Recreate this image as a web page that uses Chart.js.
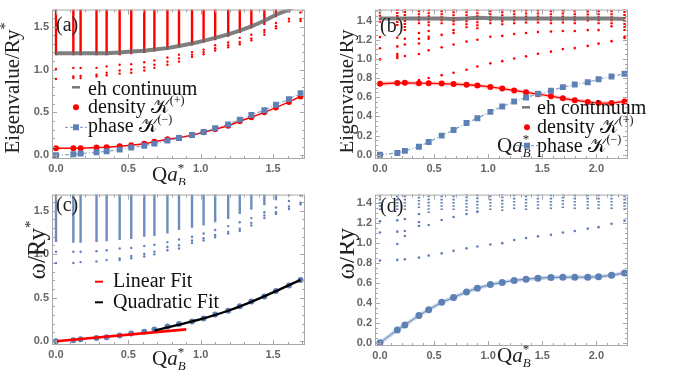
<!DOCTYPE html>
<html><head><meta charset="utf-8">
<script src="https://cdn.jsdelivr.net/npm/chart.js@4.4.1/dist/chart.umd.min.js"></script>
<style>
html,body{margin:0;padding:0;background:#fff;}
body{width:683px;height:379px;position:relative;overflow:hidden;}
canvas{position:absolute;display:block;}
</style></head><body>
<canvas id="ca" width="340" height="185" style="left:0;top:0;width:340px;height:185px"></canvas>
<canvas id="cb" width="343" height="185" style="left:340px;top:0;width:343px;height:185px"></canvas>
<canvas id="cc" width="340" height="194" style="left:0;top:185px;width:340px;height:194px"></canvas>
<canvas id="cd" width="343" height="194" style="left:340px;top:185px;width:343px;height:194px"></canvas>
<script>
// ---------------- DATA ----------------
// panel (a) / (c): momentum values
const qA = [0,0.12,0.17,0.28,0.35,0.44,0.52,0.61,0.68,0.77,0.85,0.94,1.02,1.10,1.19,1.27,1.35,1.44,1.52,1.61,1.69];
const densityA = [0.081,0.081,0.081,0.089,0.093,0.104,0.115,0.133,0.156,0.185,0.204,0.233,0.267,0.304,0.344,0.396,0.444,0.50,0.556,0.622,0.685];
const phaseA = [0,0.01,0.02,0.035,0.045,0.065,0.09,0.11,0.135,0.17,0.20,0.235,0.27,0.315,0.36,0.415,0.47,0.525,0.59,0.655,0.725];
const ehA = [1.19,1.19,1.19,1.19,1.19,1.20,1.21,1.22,1.235,1.25,1.275,1.305,1.335,1.37,1.41,1.455,1.505,1.57,1.64,1.70,1.77];
const contLowA = [1.167,1.167,1.167,1.167,1.167,1.167,1.178,1.193,1.211,1.23,1.259,1.285,1.315,1.341,1.382,1.426,1.481,1.519,1.611,1.667];
const contTopA = 1.8;
const levelsA = [[1.007,0.889],[1.019,0.919,0.90],[1.019,0.926,0.90],[1.02,0.94,0.92],[1.037,0.963,0.933],[1.056,0.989,0.952],[1.063,1.0,0.963],[1.085,1.026,0.989],[1.107,1.056,1.02],[1.141,1.093,1.056],[1.174,1.13,1.093],[1.204,1.174,1.148],[1.233,1.204,1.178],[1.285,1.248,1.222],[1.315,1.285,1.259],[1.37,1.322,1.296],[1.407,1.363,1.341],[1.463,1.437,1.407],[1.544,1.507,1.481],[1.593,1.563],[1.667,1.59,1.567]];

const omegaC = [0,0.011,0.022,0.037,0.044,0.066,0.089,0.107,0.133,0.170,0.196,0.225,0.262,0.307,0.351,0.402,0.455,0.514,0.577,0.640,0.702];
const contLowC = [1.139,1.131,1.131,1.139,1.15,1.164,1.175,1.2,1.21,1.238,1.278,1.304,1.33,1.367,1.404,1.463,1.51,1.563,1.62,1.67];
const contTopC = 1.8;
const levelsC = [[1.028,0.898],[1.028,0.898],[1.028,0.909],[1.035,0.917],[1.046,0.932],[1.065,0.95,0.932],[1.072,0.979,0.953],[1.094,1.002,0.973],[1.109,1.028,0.998],[1.139,1.083,1.046],[1.168,1.102,1.065],[1.2,1.157,1.13],[1.238,1.183,1.157],[1.278,1.22,1.194],[1.323,1.257,1.238],[1.367,1.293,1.267],[1.415,1.36,1.33],[1.482,1.445,1.415],[1.537,1.482,1.463],[1.611,1.548,1.52],[1.674,1.592,1.574]];
const linFitQ = [0,0.90];
const linFitW = [0,0.136];
const quadFitQ = [0.68,0.85,1.02,1.19,1.35,1.52,1.69];
const quadFitW = [0.122,0.19,0.262,0.35,0.452,0.575,0.705];

// panel (b) / (d)
const qB = [0,0.16,0.23,0.36,0.45,0.57,0.68,0.80,0.90,1.02,1.13,1.24,1.35,1.46,1.58,1.69,1.80,1.92,2.02,2.14,2.26];
const densityB = [0.74,0.748,0.75,0.746,0.745,0.742,0.737,0.73,0.722,0.707,0.69,0.671,0.651,0.631,0.611,0.588,0.568,0.551,0.539,0.539,0.555];
const phaseB = [0,0.017,0.04,0.082,0.132,0.199,0.258,0.331,0.38,0.447,0.503,0.556,0.596,0.636,0.668,0.705,0.732,0.755,0.788,0.815,0.844];
const ehB = [1.42,1.42,1.42,1.42,1.42,1.42,1.415,1.42,1.43,1.425,1.42,1.42,1.42,1.42,1.42,1.42,1.42,1.42,1.42,1.42,1.415];
const contLowB = [1.376,1.343,1.29,1.36,1.34,1.36,1.35,1.32,1.31,1.36,1.35,1.36,1.37,1.37,1.36,1.37,1.36,1.39,1.36,1.36,1.29];
const contTopB = 1.6;
const levelsB = [[1.227,1.111,0.995],[1.22,1.13,1.05,1.03,1.01],[1.21,1.15,1.03],[1.27,1.21,1.16,1.05,0.78],[1.29,1.23,1.21,1.09,0.80],[1.25,1.12,0.83],[1.3,1.27,1.15,0.855],[1.18,0.887],[1.2,0.92],[1.23,0.953],[1.24,0.976],[1.26,1.003],[1.27,1.026],[1.28,1.053],[1.285,1.075],[1.29,1.102],[1.29,1.112],[1.3,1.135],[1.3,1.159],[1.34,1.185],[1.23,1.217]];

const omegaD = [0,0.129,0.178,0.274,0.332,0.405,0.454,0.509,0.547,0.583,0.605,0.625,0.637,0.647,0.654,0.657,0.657,0.657,0.661,0.676,0.699];
const contLowD = [1.33,1.33,1.33,1.35,1.30,1.33,1.33,1.32,1.31,1.33,1.32,1.34,1.33,1.34,1.34,1.35,1.34,1.34,1.34,1.34,1.33];
const contTopD = 1.6;
const levelsD = [[1.216,1.104,0.824],[1.226,1.113,0.99,0.83],[1.24,1.12,1.07,0.836],[1.29,1.21,1.17,0.853],[1.18,0.873],[1.23,0.895],[1.26,0.921],[1.29,0.946],[1.31,0.965],[0.985],[0.998],[1.03],[1.049],[1.066],[1.081],[1.104],[1.12],[1.143],[1.158],[1.191],[1.223]];

// ---------------- HELPERS ----------------
const RED = '#ff0000', BLUE = '#5e81b5', GRAY = 'rgba(105,105,105,0.85)';
const SERIF = "'Liberation Serif','DejaVu Serif',serif";
const TICKFONT = {family:"'Liberation Sans',Arial,sans-serif", size:11, weight:'bold'};
const TICKCOLOR = '#666';
const FRAME = '#a8a8a8';
const KSCRIPT = '\u{1D4A6}';

const series = (q, v) => q.map((x, i) => ({x, y: v[i]}));
function columns(q, low, top) {
  const d = [];
  low.forEach((lo, i) => { d.push({x:q[i], y:lo}, {x:q[i], y:top}, {x:q[i], y:null}); });
  return d;
}
function levels(q, arr) {
  const d = [];
  arr.forEach((vals, i) => vals.forEach(v => d.push({x:q[i], y:v})));
  return d;
}

function drawRich(ctx, parts, x, y, measureOnly) {
  let cx = x;
  for (const p of parts) {
    if (p.sup !== undefined || p.sub !== undefined) {
      let w = 0;
      if (p.sup !== undefined) {
        ctx.font = (p.supItalic ? 'italic ' : '') + (p.size || 13) + 'px ' + SERIF;
        if (!measureOnly) ctx.fillText(p.sup, cx, y - (p.up || 9));
        w = Math.max(w, ctx.measureText(p.sup).width);
      }
      if (p.sub !== undefined) {
        ctx.font = (p.subItalic ? 'italic ' : '') + (p.size || 13) + 'px ' + SERIF;
        if (!measureOnly) ctx.fillText(p.sub, cx, y + (p.down || 5));
        w = Math.max(w, ctx.measureText(p.sub).width);
      }
      cx += w;
    } else {
      ctx.font = (p.italic ? 'italic ' : '') + p.size + 'px ' + (p.family || SERIF);
      if (!measureOnly) ctx.fillText(p.t, cx, y + (p.dy || 0));
      cx += ctx.measureText(p.t).width;
    }
  }
  return cx - x;
}
function drawRotated(ctx, parts, bx, cy) {
  ctx.save();
  ctx.translate(bx, cy);
  ctx.rotate(-Math.PI / 2);
  const w = drawRich(ctx, parts, 0, 0, true);
  drawRich(ctx, parts, -w / 2, 0);
  ctx.restore();
}
const qaTitle = [{t:'Q', size:21}, {t:'a', size:21, italic:true}, {sup:'*', sub:'B', subItalic:true, size:13, up:9, down:5}];
const eigTitle = [{t:'Eigenvalue/Ry', size:21}, {sup:'*', size:14, up:9}];
const omTitle = [{t:'\u03C9/Ry', size:25, italic:false}, {sup:'*', size:15, up:10}];
const densText = [{t:'density ', size:20}, {t:KSCRIPT, size:20}, {sup:'(+)', size:12, up:9}];
const phaseText = [{t:'phase ', size:20}, {t:KSCRIPT, size:20}, {sup:'(\u2212)', size:12, up:9}];

function frame(chart, xMaj, xMin, yMaj, yMin) {
  const {ctx, chartArea:a, scales:{x, y}} = chart;
  ctx.save();
  ctx.strokeStyle = FRAME; ctx.lineWidth = 1;
  ctx.strokeRect(a.left + 0.5, a.top + 0.5, a.right - a.left - 1, a.bottom - a.top - 1);
  ctx.beginPath();
  const isMaj = (v, m) => Math.abs(v / m - Math.round(v / m)) < 1e-6;
  for (let k = Math.ceil(x.min / xMin); k * xMin <= x.max + 1e-9; k++) {
    const v = k * xMin, px = Math.round(x.getPixelForValue(v)) + 0.5;
    const L = isMaj(v, xMaj) ? 5 : 3;
    ctx.moveTo(px, a.bottom); ctx.lineTo(px, a.bottom - L);
    ctx.moveTo(px, a.top); ctx.lineTo(px, a.top + L);
  }
  for (let k = Math.ceil(y.min / yMin); k * yMin <= y.max + 1e-9; k++) {
    const v = k * yMin, py = Math.round(y.getPixelForValue(v)) + 0.5;
    const L = isMaj(v, yMaj) ? 5 : 3;
    ctx.moveTo(a.left, py); ctx.lineTo(a.left + L, py);
    ctx.moveTo(a.right, py); ctx.lineTo(a.right - L, py);
  }
  ctx.stroke();
  ctx.restore();
}
function legendEntry(ctx, kind, mx, my, tx, ty, parts) {
  ctx.save();
  if (kind === 'gray') { ctx.strokeStyle = '#777'; ctx.lineWidth = 2.5; ctx.beginPath(); ctx.moveTo(mx - 4, my); ctx.lineTo(mx + 4, my); ctx.stroke(); }
  if (kind === 'red') { ctx.fillStyle = RED; ctx.beginPath(); ctx.arc(mx, my, 3, 0, Math.PI * 2); ctx.fill(); }
  if (kind === 'blue') {
    ctx.strokeStyle = 'rgba(94,129,181,0.7)'; ctx.lineWidth = 1.2; ctx.setLineDash([3, 2]);
    ctx.beginPath(); ctx.moveTo(mx - 11, my); ctx.lineTo(mx + 11, my); ctx.stroke();
    ctx.setLineDash([]); ctx.fillStyle = BLUE; ctx.fillRect(mx - 3, my - 3, 6, 6);
  }
  if (kind === 'redline') { ctx.strokeStyle = RED; ctx.lineWidth = 2; ctx.beginPath(); ctx.moveTo(mx - 4, my); ctx.lineTo(mx + 4, my); ctx.stroke(); }
  if (kind === 'blackline') { ctx.strokeStyle = '#000'; ctx.lineWidth = 2; ctx.beginPath(); ctx.moveTo(mx - 4, my); ctx.lineTo(mx + 4, my); ctx.stroke(); }
  ctx.fillStyle = '#111'; ctx.textBaseline = 'alphabetic';
  drawRich(ctx, parts, tx, ty);
  ctx.restore();
}

function makeChart(id, cfg) {
  return new Chart(document.getElementById(id), {
    type: 'scatter',
    data: {datasets: cfg.datasets},
    options: {
      responsive: false, animation: false, devicePixelRatio: 1,
      layout: {padding: {left: 0, right: cfg.padR, top: cfg.padT, bottom: 0}},
      plugins: {legend: {display: false}, tooltip: {enabled: false}},
      scales: {
        x: {type: 'linear', min: cfg.xMin, max: cfg.xMax, afterFit: s => { s.height = cfg.xH; },
            grid: {display: false, drawTicks: false}, border: {display: false},
            ticks: {stepSize: 0.5, includeBounds: false, padding: 3, font: TICKFONT, color: TICKCOLOR, maxRotation: 0, autoSkip: false,
                    callback: v => Number(v).toFixed(1)}},
        y: {type: 'linear', min: cfg.yMin, max: cfg.yMax, afterFit: s => { s.width = cfg.yW; },
            grid: {display: false, drawTicks: false}, border: {display: false},
            ticks: {stepSize: cfg.yStep, includeBounds: false, padding: 3, font: TICKFONT, color: TICKCOLOR, autoSkip: false,
                    callback: v => Number(v).toFixed(1)}}
      }
    },
    plugins: [{id: 'deco', afterDraw: cfg.deco}]
  });
}
const base = {showLine: false, clip: 0, pointBorderWidth: 0};

// ---------------- (a) ----------------
makeChart('ca', {
  padR: 35, padT: 2, xH: 26, yW: 52, xMin: -0.0276, xMax: 1.7208, yMin: -0.0444, yMax: 1.70, yStep: 0.5,
  datasets: [
    {...base, order: 1, data: series(qA, phaseA), showLine: true, borderColor: 'rgba(94,129,181,0.75)', borderWidth: 1.2, borderDash: [4, 2, 1, 2],
     pointStyle: 'rect', pointRadius: 4.2, backgroundColor: BLUE},
    {...base, order: 2, data: series(qA, densityA), showLine: true, borderColor: RED, borderWidth: 1.5, pointRadius: 3, backgroundColor: RED},
    {...base, order: 3, data: series(qA, ehA), showLine: true, borderColor: GRAY, borderWidth: 4, pointRadius: 0},
    {...base, order: 4, data: levels(qA, levelsA), pointRadius: 1.2, backgroundColor: RED},
    {...base, order: 5, data: columns(qA, contLowA, contTopA), showLine: true, spanGaps: false, borderColor: RED, borderWidth: 2.4, pointRadius: 0}
  ],
  deco(chart) {
    const ctx = chart.ctx;
    frame(chart, 0.5, 0.1, 0.5, 0.1);
    ctx.save(); ctx.fillStyle = '#222';
    drawRotated(ctx, eigTitle, 19, 88);
    drawRich(ctx, qaTitle, 152, 181);
    ctx.font = '20px ' + SERIF; ctx.fillText('(a)', 56, 31);
    ctx.restore();
    legendEntry(ctx, 'gray', 76, 87.3, 88, 94.5, [{t:'eh continuum', size:20}]);
    legendEntry(ctx, 'red', 76, 107.3, 88, 113, densText);
    legendEntry(ctx, 'blue', 76, 127.3, 88, 132, phaseText);
  }
});

// ---------------- (b) ----------------
makeChart('cb', {
  padR: 55, padT: 2, xH: 26, yW: 35, xMin: -0.046, xMax: 2.292, yMin: -0.045, yMax: 1.514, yStep: 0.2,
  datasets: [
    {...base, order: 1, data: series(qB, phaseB), showLine: true, borderColor: 'rgba(94,129,181,0.75)', borderWidth: 1.2, borderDash: [4, 2, 1, 2],
     pointStyle: 'rect', pointRadius: 4.2, backgroundColor: BLUE},
    {...base, order: 2, data: series(qB, densityB), showLine: true, borderColor: RED, borderWidth: 1.3, pointRadius: 3, backgroundColor: RED},
    {...base, order: 3, data: series(qB, densityB), showLine: true, borderColor: 'rgba(255,0,0,0.18)', borderWidth: 4, pointRadius: 0},
    {...base, order: 4, data: series(qB, ehB), showLine: true, borderColor: GRAY, borderWidth: 4, pointRadius: 0},
    {...base, order: 5, data: levels(qB, levelsB), pointRadius: 1.3, backgroundColor: RED},
    {...base, order: 6, data: columns(qB, contLowB, contTopB), showLine: true, spanGaps: false, borderColor: RED, borderWidth: 2.4, borderDash: [2, 1], pointRadius: 0}
  ],
  deco(chart) {
    const ctx = chart.ctx;
    frame(chart, 0.5, 0.1, 0.2, 0.05);
    ctx.save(); ctx.fillStyle = '#222';
    drawRotated(ctx, eigTitle, 13, 88);
    drawRich(ctx, qaTitle, 157, 152);
    ctx.font = '20px ' + SERIF; ctx.fillText('(b)', 40, 32);
    ctx.restore();
    legendEntry(ctx, 'gray', 186, 107.3, 197, 113.5, [{t:'eh continuum', size:20}]);
    legendEntry(ctx, 'red', 187, 127.3, 197, 133, densText);
    legendEntry(ctx, 'blue', 187, 145.7, 197, 152, phaseText);
  }
});

// ---------------- (c) ----------------
makeChart('cc', {
  padR: 35, padT: 4, xH: 34, yW: 52, xMin: -0.0276, xMax: 1.7208, yMin: -0.044, yMax: 1.685, yStep: 0.5,
  datasets: [
    {...base, order: 1, data: series(quadFitQ, quadFitW), showLine: true, borderColor: '#000', borderWidth: 2.3, pointRadius: 0, tension: 0.3},
    {...base, order: 2, data: series(linFitQ, linFitW), showLine: true, borderColor: RED, borderWidth: 2.6, pointRadius: 0},
    {...base, order: 3, data: series(qA, omegaC), pointRadius: 3, backgroundColor: BLUE},
    {...base, order: 4, data: levels(qA, levelsC), pointRadius: 1.2, backgroundColor: BLUE},
    {...base, order: 5, data: columns(qA, contLowC, contTopC), showLine: true, spanGaps: false, borderColor: 'rgba(94,129,181,0.9)', borderWidth: 2.4, pointRadius: 0}
  ],
  deco(chart) {
    const ctx = chart.ctx;
    frame(chart, 0.5, 0.1, 0.5, 0.1);
    ctx.save(); ctx.fillStyle = '#222';
    drawRotated(ctx, omTitle, 45, 65);
    drawRich(ctx, qaTitle, 152, 180);
    ctx.font = '20px ' + SERIF; ctx.fillText('(c)', 56, 26);
    ctx.restore();
    legendEntry(ctx, 'redline', 99, 96.7, 113, 102, [{t:'Linear Fit', size:20}]);
    legendEntry(ctx, 'blackline', 99, 117.3, 113, 123, [{t:'Quadratic Fit', size:20}]);
  }
});

// ---------------- (d) ----------------
makeChart('cd', {
  padR: 55, padT: 4, xH: 33, yW: 35, xMin: -0.046, xMax: 2.292, yMin: -0.032, yMax: 1.484, yStep: 0.2,
  datasets: [
    {...base, order: 1, data: series(qB, omegaD), showLine: true, borderColor: BLUE, borderWidth: 1, pointRadius: 3.5, backgroundColor: BLUE},
    {...base, order: 2, data: series(qB, omegaD), showLine: true, borderColor: 'rgba(94,129,181,0.3)', borderWidth: 4, pointRadius: 0},
    {...base, order: 3, data: levels(qB, levelsD), pointRadius: 1.3, backgroundColor: BLUE},
    {...base, order: 4, data: columns(qB, contLowD, contTopD), showLine: true, spanGaps: false, borderColor: BLUE, borderWidth: 2.4, borderDash: [1.6, 1.6], pointRadius: 0}
  ],
  deco(chart) {
    const ctx = chart.ctx;
    frame(chart, 0.5, 0.1, 0.2, 0.05);
    ctx.save(); ctx.fillStyle = '#222';
    drawRotated(ctx, omTitle, 14, 65);
    drawRich(ctx, qaTitle, 157, 177);
    ctx.font = '20px ' + SERIF; ctx.fillText('(d)', 40, 27);
    ctx.restore();
  }
});
</script></body></html>
